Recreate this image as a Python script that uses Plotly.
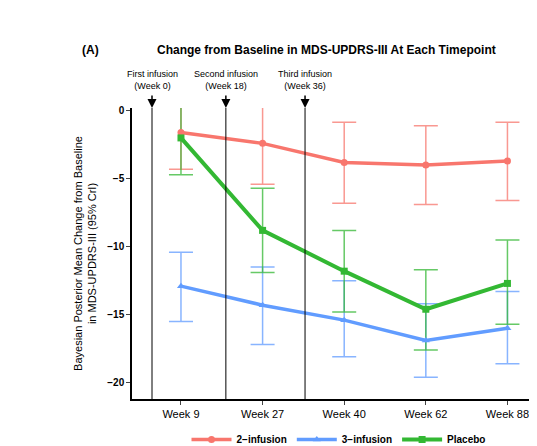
import plotly.graph_objects as go

weeks = ["Week 9", "Week 27", "Week 40", "Week 62", "Week 88"]
xpos = [1, 2, 3, 4, 5]

two_mean = [-1.6, -2.4, -3.8, -4.0, -3.7]
two_hi = [0.7, 0.7, -0.85, -1.1, -0.85]
two_lo = [-4.3, -5.4, -6.8, -6.9, -6.6]

three_mean = [-12.9, -14.3, -15.4, -16.9, -16.0]
three_hi = [-10.4, -11.5, -12.5, -14.2, -13.3]
three_lo = [-15.5, -17.2, -18.1, -19.6, -18.6]

pla_mean = [-2.0, -8.8, -11.8, -14.6, -12.7]
pla_hi = [0.7, -5.7, -8.8, -11.7, -9.5]
pla_lo = [-4.7, -11.9, -14.8, -17.6, -15.7]

infusions = ["First infusion<br>(Week 0)", "Second infusion<br>(Week 18)", "Third infusion<br>(Week 36)"]
infusion_x = [0.645, 1.55, 2.52]

fig = go.Figure()
series = [
    ("2\u2212infusion", two_mean, two_hi, two_lo, "#F8766D", "circle"),
    ("3\u2212infusion", three_mean, three_hi, three_lo, "#619CFF", "triangle-up"),
    ("Placebo", pla_mean, pla_hi, pla_lo, "#33B833", "square"),
]
for name, m, hi, lo, col, sym in series:
    fig.add_trace(go.Scatter(
        x=xpos, y=m, mode="none", showlegend=False, hoverinfo="skip",
        error_y=dict(type="data", symmetric=False,
                     array=[h - v for h, v in zip(hi, m)],
                     arrayminus=[v - l for l, v in zip(lo, m)],
                     color=col, thickness=1.5, width=12),
        opacity=0.75))
for name, m, hi, lo, col, sym in series:
    fig.add_trace(go.Scatter(
        x=xpos, y=m, mode="lines+markers", name="<b>" + name + "</b>",
        line=dict(color=col, width=4 if name == "Placebo" else 3.5),
        marker=dict(symbol=sym, size=7, color=col)))

for label, xv in zip(infusions, infusion_x):
    fig.add_shape(type="line", x0=xv, x1=xv, y0=-21.2, y1=1.04, xref="x", yref="y",
                  line=dict(color="black", width=1))
    fig.add_annotation(x=xv, y=1.0, xref="x", yref="paper", ax=0, ay=-14,
                       showarrow=True, arrowhead=2, arrowsize=1.2, arrowwidth=1.5,
                       arrowcolor="black", text="")
    fig.add_annotation(x=xv, y=1.05, xref="x", yref="paper", text=label, showarrow=False,
                       yanchor="bottom", font=dict(size=9, color="black"))

fig.add_annotation(x=-0.126, y=1.23, xref="paper", yref="paper", text="<b>(A)</b>",
                   showarrow=False, font=dict(size=12, color="black"))
fig.add_annotation(x=0.47, y=1.23, xref="paper", yref="paper",
                   text="<b>Change from Baseline in MDS-UPDRS-III At Each Timepoint</b>",
                   showarrow=False, font=dict(size=12, color="black"))

fig.update_layout(
    width=537, height=446,
    margin=dict(l=124, r=0, t=100, b=41),
    plot_bgcolor="white", paper_bgcolor="white",
    font=dict(family="Liberation Sans, Arial", color="black"),
    legend=dict(orientation="h", x=0.5, xanchor="center", y=-0.09, yanchor="top",
                font=dict(size=10, color="black"), itemwidth=40),
    xaxis=dict(range=[0.4, 5.46], tickvals=xpos, ticktext=weeks, showgrid=False,
               showline=True, linecolor="black", linewidth=1.5, ticks="outside",
               ticklen=4, tickfont=dict(size=11), zeroline=False),
    yaxis=dict(range=[-21.2, 0.2], tickvals=[0, -5, -10, -15, -20],
               ticktext=["<b>0</b>", "<b>\u22125</b>", "<b>\u221210</b>", "<b>\u221215</b>", "<b>\u221220</b>"],
               showgrid=False, showline=True, linecolor="black", linewidth=1.5,
               ticks="outside", ticklen=4, tickfont=dict(size=10), zeroline=False,
               title=dict(text="Bayesian Posterior Mean Change from Baseline<br>in MDS-UPDRS-III (95% CrI)",
                          font=dict(size=11), standoff=8)),
)

fig.write_html("out.html")
